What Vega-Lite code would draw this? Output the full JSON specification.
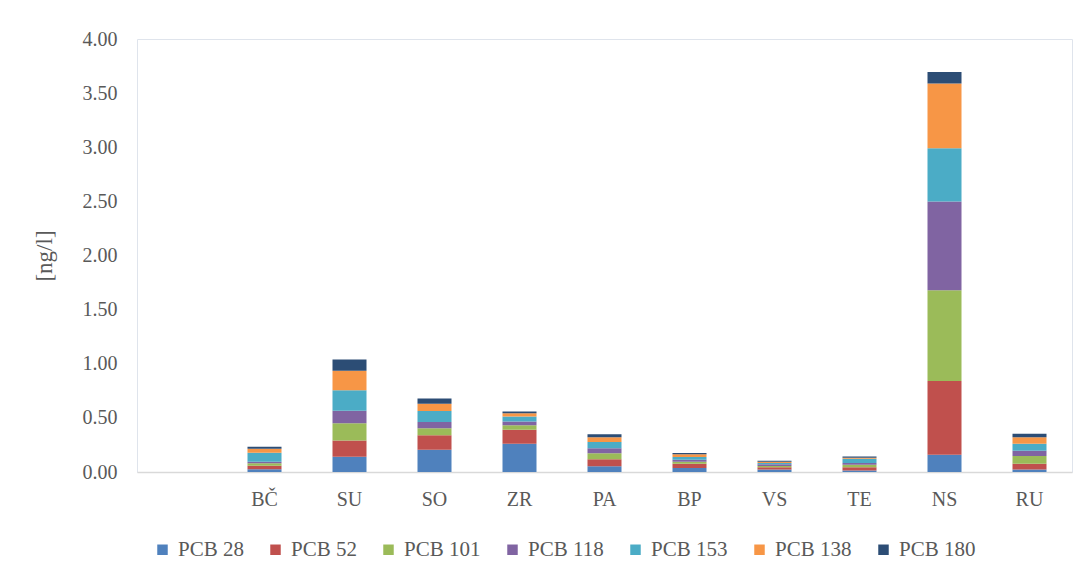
{
  "$schema": "https://vega.github.io/schema/vega-lite/v6.json",
  "width": 935,
  "height": 433,
  "autosize": {"type": "none"},
  "padding": {"left": 137, "top": 39, "right": 18, "bottom": 107},
  "background": "#ffffff",
  "config": {
    "font": "Liberation Serif",
    "view": {"stroke": "#dfe4ec", "strokeWidth": 1}
  },
  "data": {
    "values": [
      {"site": "BČ", "pcb": "PCB 28", "o": 1, "v": 0.025},
      {"site": "BČ", "pcb": "PCB 52", "o": 2, "v": 0.033},
      {"site": "BČ", "pcb": "PCB 101", "o": 3, "v": 0.022},
      {"site": "BČ", "pcb": "PCB 118", "o": 4, "v": 0.015},
      {"site": "BČ", "pcb": "PCB 153", "o": 5, "v": 0.083},
      {"site": "BČ", "pcb": "PCB 138", "o": 6, "v": 0.037},
      {"site": "BČ", "pcb": "PCB 180", "o": 7, "v": 0.018},
      {"site": "SU", "pcb": "PCB 28", "o": 1, "v": 0.14},
      {"site": "SU", "pcb": "PCB 52", "o": 2, "v": 0.15},
      {"site": "SU", "pcb": "PCB 101", "o": 3, "v": 0.16},
      {"site": "SU", "pcb": "PCB 118", "o": 4, "v": 0.115},
      {"site": "SU", "pcb": "PCB 153", "o": 5, "v": 0.19},
      {"site": "SU", "pcb": "PCB 138", "o": 6, "v": 0.18},
      {"site": "SU", "pcb": "PCB 180", "o": 7, "v": 0.105},
      {"site": "SO", "pcb": "PCB 28", "o": 1, "v": 0.205},
      {"site": "SO", "pcb": "PCB 52", "o": 2, "v": 0.135},
      {"site": "SO", "pcb": "PCB 101", "o": 3, "v": 0.065},
      {"site": "SO", "pcb": "PCB 118", "o": 4, "v": 0.058},
      {"site": "SO", "pcb": "PCB 153", "o": 5, "v": 0.10},
      {"site": "SO", "pcb": "PCB 138", "o": 6, "v": 0.067},
      {"site": "SO", "pcb": "PCB 180", "o": 7, "v": 0.05},
      {"site": "ZR", "pcb": "PCB 28", "o": 1, "v": 0.26},
      {"site": "ZR", "pcb": "PCB 52", "o": 2, "v": 0.13},
      {"site": "ZR", "pcb": "PCB 101", "o": 3, "v": 0.043},
      {"site": "ZR", "pcb": "PCB 118", "o": 4, "v": 0.034},
      {"site": "ZR", "pcb": "PCB 153", "o": 5, "v": 0.046},
      {"site": "ZR", "pcb": "PCB 138", "o": 6, "v": 0.03},
      {"site": "ZR", "pcb": "PCB 180", "o": 7, "v": 0.016},
      {"site": "PA", "pcb": "PCB 28", "o": 1, "v": 0.053},
      {"site": "PA", "pcb": "PCB 52", "o": 2, "v": 0.065},
      {"site": "PA", "pcb": "PCB 101", "o": 3, "v": 0.055},
      {"site": "PA", "pcb": "PCB 118", "o": 4, "v": 0.046},
      {"site": "PA", "pcb": "PCB 153", "o": 5, "v": 0.058},
      {"site": "PA", "pcb": "PCB 138", "o": 6, "v": 0.043},
      {"site": "PA", "pcb": "PCB 180", "o": 7, "v": 0.028},
      {"site": "BP", "pcb": "PCB 28", "o": 1, "v": 0.037},
      {"site": "BP", "pcb": "PCB 52", "o": 2, "v": 0.04},
      {"site": "BP", "pcb": "PCB 101", "o": 3, "v": 0.018},
      {"site": "BP", "pcb": "PCB 118", "o": 4, "v": 0.018},
      {"site": "BP", "pcb": "PCB 153", "o": 5, "v": 0.025},
      {"site": "BP", "pcb": "PCB 138", "o": 6, "v": 0.025},
      {"site": "BP", "pcb": "PCB 180", "o": 7, "v": 0.012},
      {"site": "VS", "pcb": "PCB 28", "o": 1, "v": 0.022},
      {"site": "VS", "pcb": "PCB 52", "o": 2, "v": 0.022},
      {"site": "VS", "pcb": "PCB 101", "o": 3, "v": 0.012},
      {"site": "VS", "pcb": "PCB 118", "o": 4, "v": 0.015},
      {"site": "VS", "pcb": "PCB 153", "o": 5, "v": 0.012},
      {"site": "VS", "pcb": "PCB 138", "o": 6, "v": 0.012},
      {"site": "VS", "pcb": "PCB 180", "o": 7, "v": 0.009},
      {"site": "TE", "pcb": "PCB 28", "o": 1, "v": 0.015},
      {"site": "TE", "pcb": "PCB 52", "o": 2, "v": 0.028},
      {"site": "TE", "pcb": "PCB 101", "o": 3, "v": 0.025},
      {"site": "TE", "pcb": "PCB 118", "o": 4, "v": 0.015},
      {"site": "TE", "pcb": "PCB 153", "o": 5, "v": 0.04},
      {"site": "TE", "pcb": "PCB 138", "o": 6, "v": 0.009},
      {"site": "TE", "pcb": "PCB 180", "o": 7, "v": 0.012},
      {"site": "NS", "pcb": "PCB 28", "o": 1, "v": 0.16},
      {"site": "NS", "pcb": "PCB 52", "o": 2, "v": 0.68},
      {"site": "NS", "pcb": "PCB 101", "o": 3, "v": 0.84},
      {"site": "NS", "pcb": "PCB 118", "o": 4, "v": 0.82},
      {"site": "NS", "pcb": "PCB 153", "o": 5, "v": 0.49},
      {"site": "NS", "pcb": "PCB 138", "o": 6, "v": 0.6},
      {"site": "NS", "pcb": "PCB 180", "o": 7, "v": 0.105},
      {"site": "RU", "pcb": "PCB 28", "o": 1, "v": 0.022},
      {"site": "RU", "pcb": "PCB 52", "o": 2, "v": 0.055},
      {"site": "RU", "pcb": "PCB 101", "o": 3, "v": 0.07},
      {"site": "RU", "pcb": "PCB 118", "o": 4, "v": 0.05},
      {"site": "RU", "pcb": "PCB 153", "o": 5, "v": 0.065},
      {"site": "RU", "pcb": "PCB 138", "o": 6, "v": 0.058},
      {"site": "RU", "pcb": "PCB 180", "o": 7, "v": 0.034}
    ]
  },
  "mark": {"type": "bar"},
  "encoding": {
    "x": {
      "field": "site",
      "type": "nominal",
      "sort": null,
      "scale": {
        "domain": [" ", "BČ", "SU", "SO", "ZR", "PA", "BP", "VS", "TE", "NS", "RU"],
        "paddingInner": 0.6,
        "paddingOuter": 0.3
      },
      "axis": {
        "title": null,
        "labelAngle": 0,
        "labelFont": "Liberation Serif",
        "labelFontSize": 20,
        "labelColor": "#595959",
        "labelPadding": 17,
        "ticks": false,
        "domainColor": "#d9d9d9",
        "domainWidth": 1.5,
        "grid": false
      }
    },
    "y": {
      "field": "v",
      "type": "quantitative",
      "aggregate": "sum",
      "stack": "zero",
      "scale": {"domain": [0, 4]},
      "axis": {
        "title": "[ng/l]",
        "titleFont": "Liberation Serif",
        "titleFontSize": 23,
        "titleFontWeight": "normal",
        "titleColor": "#595959",
        "titlePadding": 26,
        "values": [0, 0.5, 1, 1.5, 2, 2.5, 3, 3.5, 4],
        "format": ".2f",
        "labelFont": "Liberation Serif",
        "labelFontSize": 20,
        "labelColor": "#595959",
        "labelPadding": 20,
        "ticks": false,
        "domain": false,
        "grid": false
      }
    },
    "color": {
      "field": "pcb",
      "type": "nominal",
      "scale": {
        "domain": ["PCB 28", "PCB 52", "PCB 101", "PCB 118", "PCB 153", "PCB 138", "PCB 180"],
        "range": ["#4f81bd", "#c0504d", "#9bbb59", "#8064a2", "#4bacc6", "#f79646", "#2c4d75"]
      },
      "legend": {
        "title": null,
        "orient": "none",
        "direction": "horizontal",
        "legendX": 15,
        "legendY": 500,
        "symbolType": "square",
        "symbolSize": 110,
        "symbolStrokeWidth": 0,
        "labelFont": "Liberation Serif",
        "labelFontSize": 21,
        "labelColor": "#595959",
        "labelOffset": 5,
        "columnPadding": 21
      }
    },
    "order": {"field": "o", "type": "quantitative", "sort": "ascending"}
  }
}
